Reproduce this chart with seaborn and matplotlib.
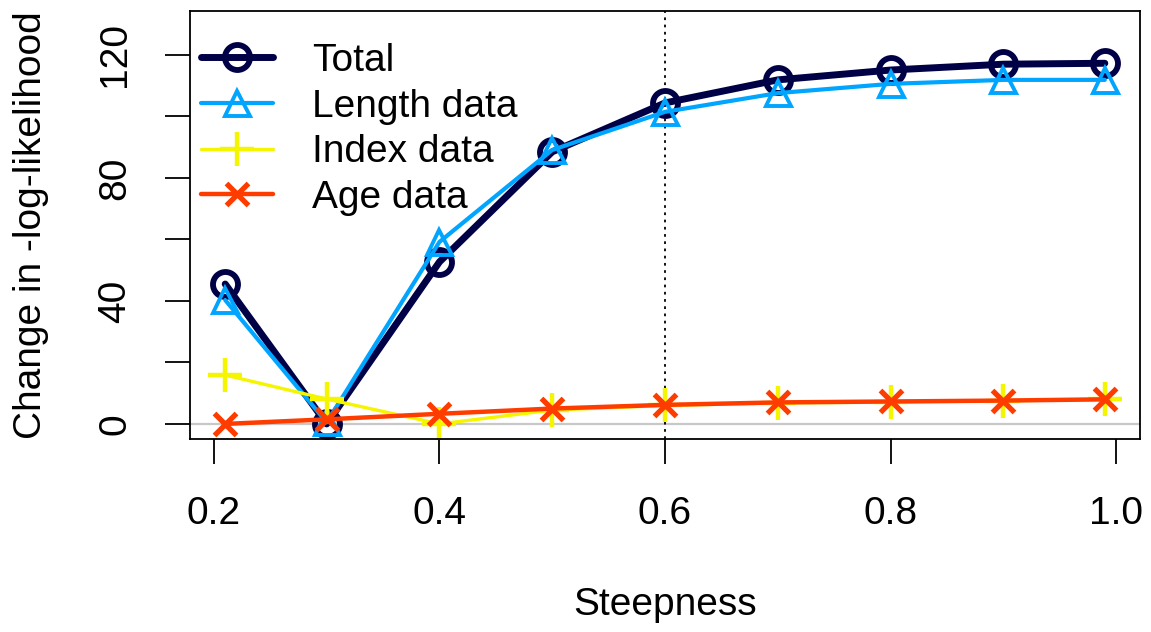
import matplotlib
matplotlib.use("Agg")
import matplotlib.pyplot as plt
import seaborn as sns
import pandas as pd

steepness = [0.21, 0.3, 0.4, 0.5, 0.6, 0.7, 0.8, 0.9, 0.99]
total = [45.5, 0.0, 52.7, 88.5, 104.4, 111.9, 115.1, 117.0, 117.3]
length_data = [40.3, 0.5, 59.2, 89.1, 101.5, 107.6, 110.6, 111.9, 111.9]
index_data = [15.9, 8.1, 0.0, 4.5, 6.0, 6.8, 7.1, 7.5, 8.0]
age_data = [0.0, 1.5, 3.3, 5.0, 6.2, 7.0, 7.3, 7.6, 8.0]
series_names = ["Total", "Length data", "Index data", "Age data"]
x_ticks = [0.2, 0.4, 0.6, 0.8, 1.0]
y_ticks = [0, 20, 40, 60, 80, 100, 120]
y_tick_labels = ["0", "", "40", "", "80", "", "120"]
ref_x = 0.6

sns.set_theme(style="white")
plt.rcParams["font.family"] = ["Liberation Sans", "DejaVu Sans"]
plt.rcParams["text.color"] = "black"
plt.rcParams["axes.labelcolor"] = "black"

fig = plt.figure(figsize=(11.51, 6.32), dpi=100)
ax = fig.add_axes([190 / 1151, 1 - 439 / 632, 950 / 1151, 428 / 632])

df = pd.DataFrame({"Steepness": steepness * 4,
                   "value": total + length_data + index_data + age_data,
                   "series": sum([[n] * len(steepness) for n in series_names], [])})

styles = {
    "Total": dict(color="#000046", lw=5.0, marker="o", ms=18, mew=4.2, mfc="none"),
    "Length data": dict(color="#00A5FF", lw=3.0, marker="^", ms=18, mew=2.8, mfc="none"),
    "Index data": dict(color="#F5F500", lw=2.4, marker="+", ms=24, mew=3.2),
    "Age data": dict(color="#FF3C00", lw=3.2, marker="x", ms=16, mew=3.8),
}

ax.axhline(0, color="#C8C8C8", lw=1.6, zorder=0)
ax.axvline(ref_x, color="black", lw=1.3, ls=(0, (1.5, 2.5)), zorder=0)

for name in series_names:
    st = styles[name]
    sub = df[df["series"] == name]
    sns.lineplot(data=sub, x="Steepness", y="value", ax=ax, color=st["color"],
                 lw=st["lw"], marker=st["marker"], markersize=st["ms"],
                 markeredgewidth=st["mew"], markeredgecolor=st["color"],
                 markerfacecolor=st.get("mfc", st["color"]), label=name,
                 estimator=None, sort=False)

ax.set_xlim(0.1788, 1.0212)
ax.set_ylim(-4.9, 134.3)
ax.set_xticks(x_ticks)
ax.set_xticklabels([f"{v:.1f}" for v in x_ticks])
ax.set_yticks(y_ticks)
ax.set_yticklabels(y_tick_labels, rotation=90, va="center")

for sp in ax.spines.values():
    sp.set_visible(True)
    sp.set_color("black")
    sp.set_linewidth(1.3)

ax.tick_params(axis="both", direction="out", length=18, width=1.3, color="black",
               labelsize=28, labelcolor="black", pad=23, bottom=True, left=True)

ax.set_xlabel("Steepness", fontsize=28, color="black")
ax.set_ylabel("Change in -log-likelihood", fontsize=28, color="black")
ax.xaxis.set_label_coords(0.5, -0.345)
ax.yaxis.set_label_coords(-0.148, 0.5)

leg = ax.legend(loc="upper left", frameon=False, fontsize=28, handlelength=1.85,
                handletextpad=1.0, labelspacing=0.25, borderaxespad=0.2,
                bbox_to_anchor=(-0.013, 0.98))
for t in leg.get_texts():
    t.set_color("black")

fig.savefig("out.png", dpi=100)
